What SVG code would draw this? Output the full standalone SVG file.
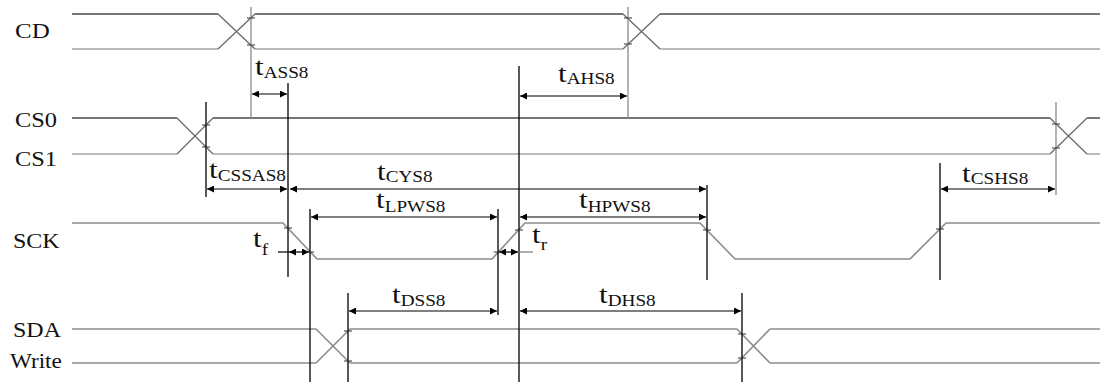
<svg xmlns="http://www.w3.org/2000/svg" width="1100" height="382" viewBox="0 0 1100 382">
<defs>
<marker id="ah" viewBox="0 0 10 10" refX="10" refY="5" markerWidth="8" markerHeight="7" markerUnits="userSpaceOnUse" orient="auto-start-reverse">
<path d="M0,0 L10,5 L0,10 z" fill="#000"/>
</marker>
<style>
.hi{stroke:#4a4a4a;stroke-width:1.6;fill:none}
.lo{stroke:#a4a4a4;stroke-width:1.6;fill:none}
.sg{stroke:#8c8c8c;stroke-width:1.6;fill:none}
.dg{stroke:#6a6a6a;stroke-width:1.3;fill:none}
.vb{stroke:#000;stroke-width:1.3;fill:none}
.vg{stroke:#8a8a8a;stroke-width:1.3;fill:none}
.dim{stroke:#000;stroke-width:1.2;fill:none;marker-start:url(#ah);marker-end:url(#ah)}
.tk{stroke:#333;stroke-width:1;fill:none}
.lb{font-family:"Liberation Serif","Times New Roman",serif;font-size:20px;fill:#111}
.t{font-family:"Liberation Serif","Times New Roman",serif;font-size:26px;fill:#111}
.s{font-size:16px}
</style>
</defs>
<rect width="1100" height="382" fill="#fff"/>

<g id="labels">
<g transform="translate(15,38) scale(1.25,1)"><text class="lb">CD</text></g>
<g transform="translate(15,127) scale(1.22,1)"><text class="lb">CS0</text></g>
<g transform="translate(15,166) scale(1.22,1)"><text class="lb">CS1</text></g>
<g transform="translate(13,248) scale(1.2,1)"><text class="lb">SCK</text></g>
<g transform="translate(13,337) scale(1.2,1)"><text class="lb">SDA</text></g>
<g transform="translate(10,368) scale(1.16,1)"><text class="lb">Write</text></g>
</g>

<g id="signal-CD">
<path class="hi" d="M72,14 H218 M255,14 H623 M660,14 H1100"/>
<path class="lo" d="M72,49 H218 M255,49 H623 M660,49 H1100"/>
<path class="dg" d="M218,14 L255,49 M218,49 L255,14 M623,14 L660,49 M623,49 L660,14"/>
</g>

<g id="signal-CS">
<path class="hi" d="M72,118 H177 M213,118 H1050 M1087,118 H1100"/>
<path class="lo" d="M72,154 H177 M213,154 H1050 M1087,154 H1100"/>
<path class="dg" d="M177,118 L213,154 M177,154 L213,118 M1050,118 L1087,154 M1050,154 L1087,118"/>
</g>

<g id="signal-SCK">
<path class="sg" d="M72,223 H283 L317,259 H492 L525,223 H700 L735,259 H910 L946,223 H1100"/>
</g>

<g id="signal-SDA">
<path class="sg" d="M72,329 H316 M350,329 H737 M770,329 H1100"/>
<path class="sg" d="M72,363 H316 M350,363 H737 M770,363 H1100"/>
<path class="sg" d="M316,329 L350,363 M316,363 L350,329 M737,329 L770,363 M737,363 L770,329"/>
</g>

<g id="connectors">
<path class="vg" d="M251,7 V118 M628,7 V118 M1056,102 V195"/>
<path class="vb" d="M288,83 V277 M519,66 V382 M206,102 V197 M940,163 V280 M707,185 V280 M310,209 V382 M498,209 V315 M348,293 V382 M742,293 V382"/>
<line class="dim" x1="252" y1="94" x2="287" y2="94"/>
<line class="dim" x1="520" y1="96" x2="627" y2="96"/>
<line class="dim" x1="207" y1="189" x2="287" y2="189"/>
<line class="dim" x1="290" y1="189" x2="706" y2="189"/>
<line class="dim" x1="941" y1="189" x2="1055" y2="189"/>
<line class="dim" x1="311" y1="217" x2="497" y2="217"/>
<line class="dim" x1="520" y1="217" x2="706" y2="217"/>
<line class="dim" x1="349" y1="311" x2="497" y2="311"/>
<line class="dim" x1="520" y1="311" x2="741" y2="311"/>
<line class="dim" x1="289" y1="252" x2="309" y2="252"/>
<line class="vb" x1="278" y1="252" x2="289" y2="252" style="stroke-width:1.2"/>
<line class="dim" x1="499" y1="252" x2="518" y2="252"/>
<line class="vb" x1="518" y1="252" x2="533" y2="252" style="stroke:#777;stroke-width:1.2"/>
<path class="tk" d="M247,18 H255 M247,45 H255 M624,18 H632 M624,44 H632 M202,125 H210 M202,147 H210 M1052,124 H1060 M1052,148 H1060 M284,228 H292 M306,252 H314 M494,252 H502 M515,230 H523 M703,230 H711 M936,229 H944 M344,331 H352 M344,361 H352 M738,334 H746 M738,358 H746"/>
</g>

<g id="timing-labels">
<g transform="translate(255,75) scale(1.2,1)"><text class="t">t<tspan class="s" dy="3">ASS8</tspan></text></g>
<g transform="translate(558,82) scale(1.2,1)"><text class="t">t<tspan class="s" dy="2">AHS8</tspan></text></g>
<g transform="translate(209,178) scale(1.2,1)"><text class="t">t<tspan class="s" dy="3">CSSAS8</tspan></text></g>
<g transform="translate(377,180) scale(1.2,1)"><text class="t">t<tspan class="s" dy="2">CYS8</tspan></text></g>
<g transform="translate(962,182) scale(1.2,1)"><text class="t">t<tspan class="s" dy="2">CSHS8</tspan></text></g>
<g transform="translate(376,208) scale(1.2,1)"><text class="t">t<tspan class="s" dy="4">LPWS8</tspan></text></g>
<g transform="translate(579,208) scale(1.2,1)"><text class="t">t<tspan class="s" dy="4">HPWS8</tspan></text></g>
<g transform="translate(392,303) scale(1.2,1)"><text class="t">t<tspan class="s" dy="3">DSS8</tspan></text></g>
<g transform="translate(599,303) scale(1.2,1)"><text class="t">t<tspan class="s" dy="3">DHS8</tspan></text></g>
<g transform="translate(253,247) scale(1.2,1)"><text class="t">t<tspan class="s" dy="8">f</tspan></text></g>
<g transform="translate(532,243) scale(1.2,1)"><text class="t">t<tspan class="s" dy="7">r</tspan></text></g>
</g>
</svg>
